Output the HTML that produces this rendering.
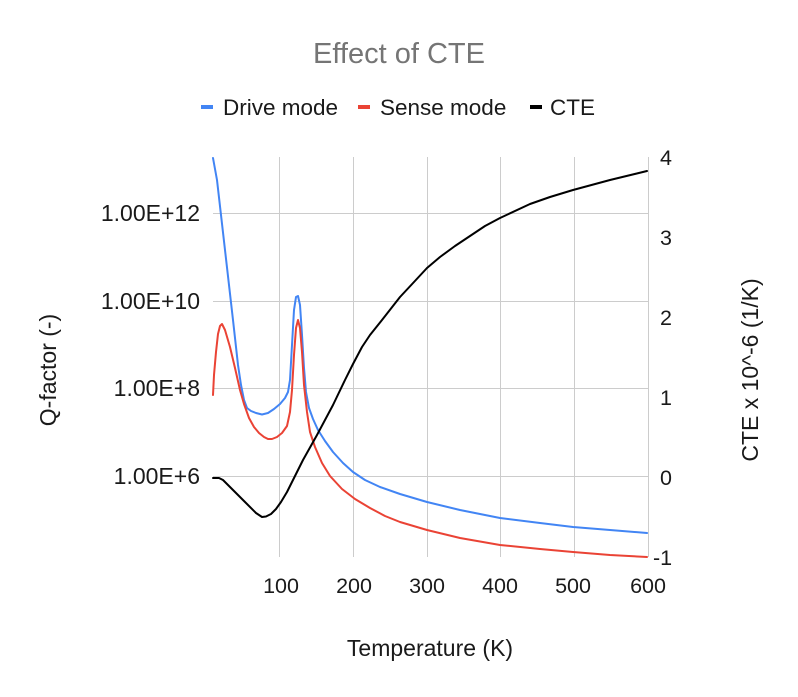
<!DOCTYPE html>
<html><head><style>body{margin:0;background:#fff}svg{display:block}text{font-family:"Liberation Sans",Arial,sans-serif}</style></head>
<body>
<svg width="798" height="697" viewBox="0 0 798 697">
<rect width="798" height="697" fill="#fff"/>
<text x="399" y="63" font-size="29" fill="#757575" text-anchor="middle">Effect of CTE</text>
<g font-size="22.5" fill="#1a1a1a">
<rect x="201" y="105" width="12" height="4" fill="#4285f4"/><text x="223" y="115">Drive mode</text>
<rect x="358" y="105" width="12" height="4" fill="#ea4335"/><text x="380" y="115">Sense mode</text>
<rect x="530" y="105" width="12" height="4" fill="#000"/><text x="550" y="115">CTE</text>
</g>
<g stroke="#cccccc" stroke-width="1">
<line x1="279.5" y1="157" x2="279.5" y2="557"/><line x1="353.5" y1="157" x2="353.5" y2="557"/>
<line x1="427.5" y1="157" x2="427.5" y2="557"/><line x1="500.5" y1="157" x2="500.5" y2="557"/>
<line x1="574.5" y1="157" x2="574.5" y2="557"/><line x1="648.5" y1="157" x2="648.5" y2="557"/>
<line x1="213" y1="213.5" x2="648" y2="213.5"/><line x1="213" y1="301.5" x2="648" y2="301.5"/>
<line x1="213" y1="388.5" x2="648" y2="388.5"/><line x1="213" y1="476.5" x2="648" y2="476.5"/>
</g>
<g fill="none" stroke-width="2" stroke-linejoin="round" stroke-linecap="round">
<path stroke="#4285f4" d="M213,158 L217,180 L225,250 L233,320 L238,365 L241,385 L244,400 L247,408 L251,411 L256,413 L262,414.5 L268,413 L274,409 L280,404 L285,398 L288,392 L290,380 L292,345 L294,310 L296,297 L298,296 L300,305 L302,335 L304,368 L306,392 L309,408 L313,419 L318,430 L325,441 L333,452 L343,463 L353,472 L365,480 L380,487 L400,494 L427,502 L460,510 L500,518 L540,523 L573,527 L610,530 L647,533"/>
<path stroke="#ea4335" d="M213,395 L214,375 L216,352 L218,334 L220,326 L222,324 L225,330 L230,347 L235,368 L240,390 L244,404 L249,418 L254,427 L259,433 L264,437 L268,439 L272,439 L277,437 L282,433 L287,426 L290,412 L292,390 L294,355 L296,328 L298,320 L300,328 L302,352 L304,385 L307,412 L310,432 L315,447 L322,463 L330,476 L342,489 L355,499 L370,508 L385,516 L400,522 L427,530 L460,538 L500,545 L540,549 L573,552 L610,555 L647,557"/>
<path stroke="#000" d="M213,478 L219,478 L223,480 L230,487 L245,502 L256,513 L262,517 L266,516.5 L271,514 L276,509 L281,502 L287,492 L293,480 L303,460 L317,435 L333,405 L345,380 L353,364 L362,347 L370,335 L382,320 L400,297 L414,282 L427,268 L440,257 L455,246 L470,236 L485,226 L500,218 L530,204 L550,197 L573,190 L610,180 L647,171"/>
</g>
<g font-size="23" fill="#1a1a1a" text-anchor="end">
<text x="200" y="221">1.00E+12</text><text x="200" y="309">1.00E+10</text>
<text x="200" y="396">1.00E+8</text><text x="200" y="484">1.00E+6</text>
</g>
<g font-size="21.5" fill="#1a1a1a">
<text x="660" y="165">4</text><text x="660" y="245">3</text><text x="660" y="325">2</text>
<text x="660" y="405">1</text><text x="660" y="485">0</text><text x="653" y="565">-1</text>
</g>
<g font-size="21.5" fill="#1a1a1a" text-anchor="middle">
<text x="281" y="593">100</text><text x="354" y="593">200</text><text x="427" y="593">300</text>
<text x="500" y="593">400</text><text x="573" y="593">500</text><text x="648" y="593">600</text>
</g>
<text x="430" y="656" font-size="23" fill="#1a1a1a" text-anchor="middle">Temperature (K)</text>
<text transform="translate(56,370) rotate(-90)" font-size="23" fill="#1a1a1a" text-anchor="middle">Q-factor (-)</text>
<text transform="translate(758,370) rotate(-90)" font-size="23" fill="#1a1a1a" text-anchor="middle">CTE x 10^-6 (1/K)</text>
</svg>
</body></html>
